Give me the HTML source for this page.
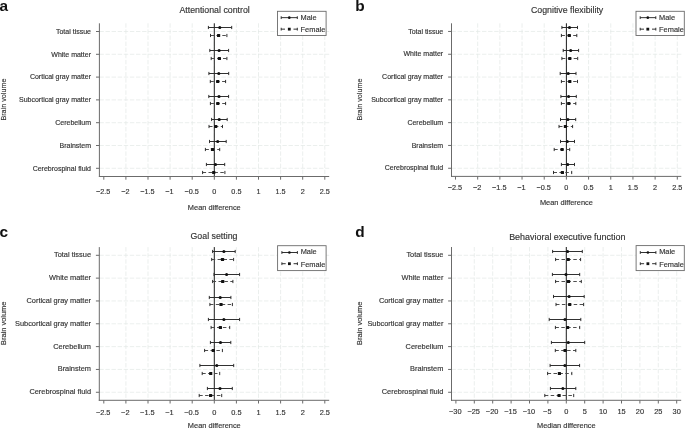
<!DOCTYPE html>
<html><head><meta charset="utf-8"><style>
html,body{margin:0;padding:0;background:#fff;width:685px;height:429px;overflow:hidden}
svg{display:block}
text{font-family:"Liberation Sans",sans-serif;fill:#333;stroke:#333;stroke-width:0.15px}
svg{will-change:transform}
.g{stroke:#e3e8e5;stroke-width:0.7;stroke-dasharray:4.4,1.7}
.z{stroke:#1e1e1e;stroke-width:1}
.ax{stroke:#6b6b6b;stroke-width:1}
.ci{stroke:#262626;stroke-width:0.95;fill:none}
.fd{stroke-dasharray:3.5,2.4;stroke:#444}
</style></head><body>
<svg width="685" height="429" viewBox="0 0 685 429">
<rect width="685" height="429" fill="#fff"/>
<line x1="125.90" y1="23.3" x2="125.90" y2="176.5" class="g"/>
<line x1="148.00" y1="23.3" x2="148.00" y2="176.5" class="g"/>
<line x1="170.10" y1="23.3" x2="170.10" y2="176.5" class="g"/>
<line x1="192.20" y1="23.3" x2="192.20" y2="176.5" class="g"/>
<line x1="214.30" y1="23.3" x2="214.30" y2="176.5" class="g"/>
<line x1="236.40" y1="23.3" x2="236.40" y2="176.5" class="g"/>
<line x1="258.50" y1="23.3" x2="258.50" y2="176.5" class="g"/>
<line x1="280.60" y1="23.3" x2="280.60" y2="176.5" class="g"/>
<line x1="302.70" y1="23.3" x2="302.70" y2="176.5" class="g"/>
<line x1="324.80" y1="23.3" x2="324.80" y2="176.5" class="g"/>
<line x1="99.4" y1="31.50" x2="329.2" y2="31.50" class="g"/>
<line x1="99.4" y1="54.30" x2="329.2" y2="54.30" class="g"/>
<line x1="99.4" y1="77.10" x2="329.2" y2="77.10" class="g"/>
<line x1="99.4" y1="99.90" x2="329.2" y2="99.90" class="g"/>
<line x1="99.4" y1="122.70" x2="329.2" y2="122.70" class="g"/>
<line x1="99.4" y1="145.50" x2="329.2" y2="145.50" class="g"/>
<line x1="99.4" y1="168.30" x2="329.2" y2="168.30" class="g"/>
<line x1="214.3" y1="23.3" x2="214.3" y2="176.5" class="z"/>
<line x1="99.4" y1="23.3" x2="99.4" y2="177.0" class="ax"/>
<line x1="98.9" y1="176.5" x2="329.2" y2="176.5" class="ax"/>
<line x1="103.80" y1="176.5" x2="103.80" y2="179.7" class="ax"/>
<text x="103.20" y="193.9" font-size="7.25" text-anchor="middle">−2.5</text>
<line x1="125.90" y1="176.5" x2="125.90" y2="179.7" class="ax"/>
<text x="125.30" y="193.9" font-size="7.25" text-anchor="middle">−2</text>
<line x1="148.00" y1="176.5" x2="148.00" y2="179.7" class="ax"/>
<text x="147.40" y="193.9" font-size="7.25" text-anchor="middle">−1.5</text>
<line x1="170.10" y1="176.5" x2="170.10" y2="179.7" class="ax"/>
<text x="169.50" y="193.9" font-size="7.25" text-anchor="middle">−1</text>
<line x1="192.20" y1="176.5" x2="192.20" y2="179.7" class="ax"/>
<text x="191.60" y="193.9" font-size="7.25" text-anchor="middle">−0.5</text>
<line x1="214.30" y1="176.5" x2="214.30" y2="179.7" class="ax"/>
<text x="214.30" y="193.9" font-size="7.25" text-anchor="middle">0</text>
<line x1="236.40" y1="176.5" x2="236.40" y2="179.7" class="ax"/>
<text x="236.40" y="193.9" font-size="7.25" text-anchor="middle">0.5</text>
<line x1="258.50" y1="176.5" x2="258.50" y2="179.7" class="ax"/>
<text x="258.50" y="193.9" font-size="7.25" text-anchor="middle">1</text>
<line x1="280.60" y1="176.5" x2="280.60" y2="179.7" class="ax"/>
<text x="280.60" y="193.9" font-size="7.25" text-anchor="middle">1.5</text>
<line x1="302.70" y1="176.5" x2="302.70" y2="179.7" class="ax"/>
<text x="302.70" y="193.9" font-size="7.25" text-anchor="middle">2</text>
<line x1="324.80" y1="176.5" x2="324.80" y2="179.7" class="ax"/>
<text x="324.80" y="193.9" font-size="7.25" text-anchor="middle">2.5</text>
<line x1="96.0" y1="31.50" x2="99.4" y2="31.50" class="ax"/>
<text x="91.0" y="33.70" font-size="7.0" text-anchor="end">Total tissue</text>
<line x1="96.0" y1="54.30" x2="99.4" y2="54.30" class="ax"/>
<text x="91.0" y="56.50" font-size="7.0" text-anchor="end">White matter</text>
<line x1="96.0" y1="77.10" x2="99.4" y2="77.10" class="ax"/>
<text x="91.0" y="79.30" font-size="7.0" text-anchor="end">Cortical gray matter</text>
<line x1="96.0" y1="99.90" x2="99.4" y2="99.90" class="ax"/>
<text x="91.0" y="102.10" font-size="7.0" text-anchor="end">Subcortical gray matter</text>
<line x1="96.0" y1="122.70" x2="99.4" y2="122.70" class="ax"/>
<text x="91.0" y="124.90" font-size="7.0" text-anchor="end">Cerebellum</text>
<line x1="96.0" y1="145.50" x2="99.4" y2="145.50" class="ax"/>
<text x="91.0" y="147.70" font-size="7.0" text-anchor="end">Brainstem</text>
<line x1="96.0" y1="168.30" x2="99.4" y2="168.30" class="ax"/>
<text x="91.0" y="170.50" font-size="7.0" text-anchor="end">Cerebrospinal fluid</text>
<path d="M208.4,27.50H231.7M208.4,25.90V29.10M231.7,25.90V29.10" class="ci"/>
<circle cx="219.8" cy="27.50" r="1.55" fill="#111"/>
<path d="M210.5,35.50H226.9" class="ci fd"/>
<path d="M210.5,33.90V37.10M226.9,33.90V37.10" class="ci"/>
<rect x="217.00" y="33.90" width="3.2" height="3.2" rx="0.5" fill="#111"/>
<path d="M209.8,50.50H228.6M209.8,48.90V52.10M228.6,48.90V52.10" class="ci"/>
<circle cx="219.1" cy="50.50" r="1.55" fill="#111"/>
<path d="M211.2,58.50H226.9" class="ci fd"/>
<path d="M211.2,56.90V60.10M226.9,56.90V60.10" class="ci"/>
<rect x="217.80" y="56.90" width="3.2" height="3.2" rx="0.5" fill="#111"/>
<path d="M208.9,73.50H228.7M208.9,71.90V75.10M228.7,71.90V75.10" class="ci"/>
<circle cx="218.8" cy="73.50" r="1.55" fill="#111"/>
<path d="M210.3,81.50H225.6" class="ci fd"/>
<path d="M210.3,79.90V83.10M225.6,79.90V83.10" class="ci"/>
<rect x="216.10" y="79.90" width="3.2" height="3.2" rx="0.5" fill="#111"/>
<path d="M208.8,96.50H228.6M208.8,94.90V98.10M228.6,94.90V98.10" class="ci"/>
<circle cx="219.0" cy="96.50" r="1.55" fill="#111"/>
<path d="M210.4,103.50H225.6" class="ci fd"/>
<path d="M210.4,101.90V105.10M225.6,101.90V105.10" class="ci"/>
<rect x="216.20" y="101.90" width="3.2" height="3.2" rx="0.5" fill="#111"/>
<path d="M211.6,119.50H227.2M211.6,117.90V121.10M227.2,117.90V121.10" class="ci"/>
<circle cx="219.2" cy="119.50" r="1.55" fill="#111"/>
<path d="M209.0,126.50H222.5" class="ci fd"/>
<path d="M209.0,124.90V128.10M222.5,124.90V128.10" class="ci"/>
<rect x="214.10" y="124.90" width="3.2" height="3.2" rx="0.5" fill="#111"/>
<path d="M209.5,141.50H226.2M209.5,139.90V143.10M226.2,139.90V143.10" class="ci"/>
<circle cx="217.7" cy="141.50" r="1.55" fill="#111"/>
<path d="M205.4,149.50H219.7" class="ci fd"/>
<path d="M205.4,147.90V151.10M219.7,147.90V151.10" class="ci"/>
<rect x="210.90" y="147.90" width="3.2" height="3.2" rx="0.5" fill="#111"/>
<path d="M206.4,164.50H224.7M206.4,162.90V166.10M224.7,162.90V166.10" class="ci"/>
<circle cx="215.5" cy="164.50" r="1.55" fill="#111"/>
<path d="M202.6,172.50H224.9" class="ci fd"/>
<path d="M202.6,170.90V174.10M224.9,170.90V174.10" class="ci"/>
<rect x="212.10" y="170.90" width="3.2" height="3.2" rx="0.5" fill="#111"/>
<rect x="277.5" y="11.3" width="48.6" height="24.2" fill="#fff" stroke="#6b6b6b" stroke-width="0.9"/>
<path d="M281.20,17.65H297.30M281.20,16.25V19.05M297.30,16.25V19.05" class="ci"/>
<circle cx="289.30" cy="17.65" r="1.3" fill="#111"/>
<path d="M281.20,29.15H285.00M293.50,29.15H297.30M281.20,27.75V30.55M297.30,27.75V30.55" class="ci"/>
<rect x="287.90" y="27.75" width="2.8" height="2.8" fill="#111"/>
<text x="300.60" y="19.90" font-size="7.4">Male</text>
<text x="300.60" y="31.75" font-size="7.4">Female</text>
<text x="214.6" y="12.8" font-size="8.8" text-anchor="middle">Attentional control</text>
<text x="214.3" y="210.1" font-size="7.4" text-anchor="middle">Mean difference</text>
<text transform="translate(6.3,99.6) rotate(-90)" font-size="7.2" text-anchor="middle">Brain volume</text>
<text x="-0.6" y="10.8" font-size="15.4" font-weight="bold" style="fill:#111;stroke:none">a</text>
<line x1="477.68" y1="23.3" x2="477.68" y2="176.4" class="g"/>
<line x1="499.86" y1="23.3" x2="499.86" y2="176.4" class="g"/>
<line x1="522.04" y1="23.3" x2="522.04" y2="176.4" class="g"/>
<line x1="544.22" y1="23.3" x2="544.22" y2="176.4" class="g"/>
<line x1="566.40" y1="23.3" x2="566.40" y2="176.4" class="g"/>
<line x1="588.58" y1="23.3" x2="588.58" y2="176.4" class="g"/>
<line x1="610.76" y1="23.3" x2="610.76" y2="176.4" class="g"/>
<line x1="632.94" y1="23.3" x2="632.94" y2="176.4" class="g"/>
<line x1="655.12" y1="23.3" x2="655.12" y2="176.4" class="g"/>
<line x1="677.30" y1="23.3" x2="677.30" y2="176.4" class="g"/>
<line x1="451.5" y1="31.45" x2="681.3" y2="31.45" class="g"/>
<line x1="451.5" y1="54.25" x2="681.3" y2="54.25" class="g"/>
<line x1="451.5" y1="77.05" x2="681.3" y2="77.05" class="g"/>
<line x1="451.5" y1="99.85" x2="681.3" y2="99.85" class="g"/>
<line x1="451.5" y1="122.65" x2="681.3" y2="122.65" class="g"/>
<line x1="451.5" y1="145.45" x2="681.3" y2="145.45" class="g"/>
<line x1="451.5" y1="168.25" x2="681.3" y2="168.25" class="g"/>
<line x1="566.4" y1="23.3" x2="566.4" y2="176.4" class="z"/>
<line x1="451.5" y1="23.3" x2="451.5" y2="176.9" class="ax"/>
<line x1="451.0" y1="176.4" x2="681.3" y2="176.4" class="ax"/>
<line x1="455.50" y1="176.4" x2="455.50" y2="179.6" class="ax"/>
<text x="454.90" y="189.9" font-size="7.3" text-anchor="middle">−2.5</text>
<line x1="477.68" y1="176.4" x2="477.68" y2="179.6" class="ax"/>
<text x="477.08" y="189.9" font-size="7.3" text-anchor="middle">−2</text>
<line x1="499.86" y1="176.4" x2="499.86" y2="179.6" class="ax"/>
<text x="499.26" y="189.9" font-size="7.3" text-anchor="middle">−1.5</text>
<line x1="522.04" y1="176.4" x2="522.04" y2="179.6" class="ax"/>
<text x="521.44" y="189.9" font-size="7.3" text-anchor="middle">−1</text>
<line x1="544.22" y1="176.4" x2="544.22" y2="179.6" class="ax"/>
<text x="543.62" y="189.9" font-size="7.3" text-anchor="middle">−0.5</text>
<line x1="566.40" y1="176.4" x2="566.40" y2="179.6" class="ax"/>
<text x="566.40" y="189.9" font-size="7.3" text-anchor="middle">0</text>
<line x1="588.58" y1="176.4" x2="588.58" y2="179.6" class="ax"/>
<text x="588.58" y="189.9" font-size="7.3" text-anchor="middle">0.5</text>
<line x1="610.76" y1="176.4" x2="610.76" y2="179.6" class="ax"/>
<text x="610.76" y="189.9" font-size="7.3" text-anchor="middle">1</text>
<line x1="632.94" y1="176.4" x2="632.94" y2="179.6" class="ax"/>
<text x="632.94" y="189.9" font-size="7.3" text-anchor="middle">1.5</text>
<line x1="655.12" y1="176.4" x2="655.12" y2="179.6" class="ax"/>
<text x="655.12" y="189.9" font-size="7.3" text-anchor="middle">2</text>
<line x1="677.30" y1="176.4" x2="677.30" y2="179.6" class="ax"/>
<text x="677.30" y="189.9" font-size="7.3" text-anchor="middle">2.5</text>
<line x1="448.1" y1="31.45" x2="451.5" y2="31.45" class="ax"/>
<text x="443.2" y="33.65" font-size="7.0" text-anchor="end">Total tissue</text>
<line x1="448.1" y1="54.25" x2="451.5" y2="54.25" class="ax"/>
<text x="443.2" y="56.45" font-size="7.0" text-anchor="end">White matter</text>
<line x1="448.1" y1="77.05" x2="451.5" y2="77.05" class="ax"/>
<text x="443.2" y="79.25" font-size="7.0" text-anchor="end">Cortical gray matter</text>
<line x1="448.1" y1="99.85" x2="451.5" y2="99.85" class="ax"/>
<text x="443.2" y="102.05" font-size="7.0" text-anchor="end">Subcortical gray matter</text>
<line x1="448.1" y1="122.65" x2="451.5" y2="122.65" class="ax"/>
<text x="443.2" y="124.85" font-size="7.0" text-anchor="end">Cerebellum</text>
<line x1="448.1" y1="145.45" x2="451.5" y2="145.45" class="ax"/>
<text x="443.2" y="147.65" font-size="7.0" text-anchor="end">Brainstem</text>
<line x1="448.1" y1="168.25" x2="451.5" y2="168.25" class="ax"/>
<text x="443.2" y="170.45" font-size="7.0" text-anchor="end">Cerebrospinal fluid</text>
<path d="M561.9,27.50H577.5M561.9,25.90V29.10M577.5,25.90V29.10" class="ci"/>
<circle cx="569.5" cy="27.50" r="1.55" fill="#111"/>
<path d="M561.4,35.50H576.8" class="ci fd"/>
<path d="M561.4,33.90V37.10M576.8,33.90V37.10" class="ci"/>
<rect x="567.70" y="33.90" width="3.2" height="3.2" rx="0.5" fill="#111"/>
<path d="M563.2,50.50H578.6M563.2,48.90V52.10M578.6,48.90V52.10" class="ci"/>
<circle cx="570.7" cy="50.50" r="1.55" fill="#111"/>
<path d="M561.9,58.50H577.7" class="ci fd"/>
<path d="M561.9,56.90V60.10M577.7,56.90V60.10" class="ci"/>
<rect x="568.20" y="56.90" width="3.2" height="3.2" rx="0.5" fill="#111"/>
<path d="M560.2,73.50H576.0M560.2,71.90V75.10M576.0,71.90V75.10" class="ci"/>
<circle cx="568.2" cy="73.50" r="1.55" fill="#111"/>
<path d="M561.4,81.50H577.5" class="ci fd"/>
<path d="M561.4,79.90V83.10M577.5,79.90V83.10" class="ci"/>
<rect x="568.20" y="79.90" width="3.2" height="3.2" rx="0.5" fill="#111"/>
<path d="M560.9,96.50H576.3M560.9,94.90V98.10M576.3,94.90V98.10" class="ci"/>
<circle cx="568.6" cy="96.50" r="1.55" fill="#111"/>
<path d="M561.4,103.50H575.8" class="ci fd"/>
<path d="M561.4,101.90V105.10M575.8,101.90V105.10" class="ci"/>
<rect x="567.20" y="101.90" width="3.2" height="3.2" rx="0.5" fill="#111"/>
<path d="M560.5,119.50H575.7M560.5,117.90V121.10M575.7,117.90V121.10" class="ci"/>
<circle cx="567.9" cy="119.50" r="1.55" fill="#111"/>
<path d="M559.0,126.50H572.6" class="ci fd"/>
<path d="M559.0,124.90V128.10M572.6,124.90V128.10" class="ci"/>
<rect x="563.80" y="124.90" width="3.2" height="3.2" rx="0.5" fill="#111"/>
<path d="M560.5,141.50H574.5M560.5,139.90V143.10M574.5,139.90V143.10" class="ci"/>
<circle cx="567.3" cy="141.50" r="1.55" fill="#111"/>
<path d="M554.2,149.50H569.7" class="ci fd"/>
<path d="M554.2,147.90V151.10M569.7,147.90V151.10" class="ci"/>
<rect x="560.50" y="147.90" width="3.2" height="3.2" rx="0.5" fill="#111"/>
<path d="M561.4,164.50H574.5M561.4,162.90V166.10M574.5,162.90V166.10" class="ci"/>
<circle cx="567.7" cy="164.50" r="1.55" fill="#111"/>
<path d="M553.5,172.50H571.7" class="ci fd"/>
<path d="M553.5,170.90V174.10M571.7,170.90V174.10" class="ci"/>
<rect x="560.80" y="170.90" width="3.2" height="3.2" rx="0.5" fill="#111"/>
<rect x="636.0" y="11.3" width="48.3" height="24.2" fill="#fff" stroke="#6b6b6b" stroke-width="0.9"/>
<path d="M640.20,17.65H655.80M640.20,16.25V19.05M655.80,16.25V19.05" class="ci"/>
<circle cx="647.80" cy="17.65" r="1.3" fill="#111"/>
<path d="M640.20,29.15H644.00M652.00,29.15H655.80M640.20,27.75V30.55M655.80,27.75V30.55" class="ci"/>
<rect x="646.40" y="27.75" width="2.8" height="2.8" fill="#111"/>
<text x="659.10" y="19.90" font-size="7.4">Male</text>
<text x="659.10" y="31.75" font-size="7.4">Female</text>
<text x="567.1" y="12.9" font-size="8.8" text-anchor="middle">Cognitive flexibility</text>
<text x="566.4" y="204.8" font-size="7.4" text-anchor="middle">Mean difference</text>
<text transform="translate(362.4,99.6) rotate(-90)" font-size="7.2" text-anchor="middle">Brain volume</text>
<text x="355.2" y="10.6" font-size="15.4" font-weight="bold" style="fill:#111;stroke:none">b</text>
<line x1="125.90" y1="247.1" x2="125.90" y2="400.3" class="g"/>
<line x1="148.00" y1="247.1" x2="148.00" y2="400.3" class="g"/>
<line x1="170.10" y1="247.1" x2="170.10" y2="400.3" class="g"/>
<line x1="192.20" y1="247.1" x2="192.20" y2="400.3" class="g"/>
<line x1="214.30" y1="247.1" x2="214.30" y2="400.3" class="g"/>
<line x1="236.40" y1="247.1" x2="236.40" y2="400.3" class="g"/>
<line x1="258.50" y1="247.1" x2="258.50" y2="400.3" class="g"/>
<line x1="280.60" y1="247.1" x2="280.60" y2="400.3" class="g"/>
<line x1="302.70" y1="247.1" x2="302.70" y2="400.3" class="g"/>
<line x1="324.80" y1="247.1" x2="324.80" y2="400.3" class="g"/>
<line x1="99.3" y1="255.30" x2="329.2" y2="255.30" class="g"/>
<line x1="99.3" y1="278.13" x2="329.2" y2="278.13" class="g"/>
<line x1="99.3" y1="300.96" x2="329.2" y2="300.96" class="g"/>
<line x1="99.3" y1="323.79" x2="329.2" y2="323.79" class="g"/>
<line x1="99.3" y1="346.62" x2="329.2" y2="346.62" class="g"/>
<line x1="99.3" y1="369.45" x2="329.2" y2="369.45" class="g"/>
<line x1="99.3" y1="392.28" x2="329.2" y2="392.28" class="g"/>
<line x1="214.3" y1="247.1" x2="214.3" y2="400.3" class="z"/>
<line x1="99.3" y1="247.1" x2="99.3" y2="400.8" class="ax"/>
<line x1="98.8" y1="400.3" x2="329.2" y2="400.3" class="ax"/>
<line x1="103.80" y1="400.3" x2="103.80" y2="403.5" class="ax"/>
<text x="103.20" y="414.6" font-size="7.4" text-anchor="middle">−2.5</text>
<line x1="125.90" y1="400.3" x2="125.90" y2="403.5" class="ax"/>
<text x="125.30" y="414.6" font-size="7.4" text-anchor="middle">−2</text>
<line x1="148.00" y1="400.3" x2="148.00" y2="403.5" class="ax"/>
<text x="147.40" y="414.6" font-size="7.4" text-anchor="middle">−1.5</text>
<line x1="170.10" y1="400.3" x2="170.10" y2="403.5" class="ax"/>
<text x="169.50" y="414.6" font-size="7.4" text-anchor="middle">−1</text>
<line x1="192.20" y1="400.3" x2="192.20" y2="403.5" class="ax"/>
<text x="191.60" y="414.6" font-size="7.4" text-anchor="middle">−0.5</text>
<line x1="214.30" y1="400.3" x2="214.30" y2="403.5" class="ax"/>
<text x="214.30" y="414.6" font-size="7.4" text-anchor="middle">0</text>
<line x1="236.40" y1="400.3" x2="236.40" y2="403.5" class="ax"/>
<text x="236.40" y="414.6" font-size="7.4" text-anchor="middle">0.5</text>
<line x1="258.50" y1="400.3" x2="258.50" y2="403.5" class="ax"/>
<text x="258.50" y="414.6" font-size="7.4" text-anchor="middle">1</text>
<line x1="280.60" y1="400.3" x2="280.60" y2="403.5" class="ax"/>
<text x="280.60" y="414.6" font-size="7.4" text-anchor="middle">1.5</text>
<line x1="302.70" y1="400.3" x2="302.70" y2="403.5" class="ax"/>
<text x="302.70" y="414.6" font-size="7.4" text-anchor="middle">2</text>
<line x1="324.80" y1="400.3" x2="324.80" y2="403.5" class="ax"/>
<text x="324.80" y="414.6" font-size="7.4" text-anchor="middle">2.5</text>
<line x1="95.89999999999999" y1="255.30" x2="99.3" y2="255.30" class="ax"/>
<text x="91.0" y="257.30" font-size="7.4" text-anchor="end">Total tissue</text>
<line x1="95.89999999999999" y1="278.13" x2="99.3" y2="278.13" class="ax"/>
<text x="91.0" y="280.13" font-size="7.4" text-anchor="end">White matter</text>
<line x1="95.89999999999999" y1="300.96" x2="99.3" y2="300.96" class="ax"/>
<text x="91.0" y="302.96" font-size="7.4" text-anchor="end">Cortical gray matter</text>
<line x1="95.89999999999999" y1="323.79" x2="99.3" y2="323.79" class="ax"/>
<text x="91.0" y="325.79" font-size="7.4" text-anchor="end">Subcortical gray matter</text>
<line x1="95.89999999999999" y1="346.62" x2="99.3" y2="346.62" class="ax"/>
<text x="91.0" y="348.62" font-size="7.4" text-anchor="end">Cerebellum</text>
<line x1="95.89999999999999" y1="369.45" x2="99.3" y2="369.45" class="ax"/>
<text x="91.0" y="371.45" font-size="7.4" text-anchor="end">Brainstem</text>
<line x1="95.89999999999999" y1="392.28" x2="99.3" y2="392.28" class="ax"/>
<text x="91.0" y="394.28" font-size="7.4" text-anchor="end">Cerebrospinal fluid</text>
<path d="M212.6,251.50H235.2M212.6,249.90V253.10M235.2,249.90V253.10" class="ci"/>
<circle cx="223.9" cy="251.50" r="1.55" fill="#111"/>
<path d="M211.7,259.50H233.6" class="ci fd"/>
<path d="M211.7,257.90V261.10M233.6,257.90V261.10" class="ci"/>
<rect x="220.90" y="257.90" width="3.2" height="3.2" rx="0.5" fill="#111"/>
<path d="M214.0,274.50H239.6M214.0,272.90V276.10M239.6,272.90V276.10" class="ci"/>
<circle cx="226.6" cy="274.50" r="1.55" fill="#111"/>
<path d="M212.6,281.50H232.9" class="ci fd"/>
<path d="M212.6,279.90V283.10M232.9,279.90V283.10" class="ci"/>
<rect x="221.10" y="279.90" width="3.2" height="3.2" rx="0.5" fill="#111"/>
<path d="M209.3,297.50H230.9M209.3,295.90V299.10M230.9,295.90V299.10" class="ci"/>
<circle cx="220.2" cy="297.50" r="1.55" fill="#111"/>
<path d="M209.9,304.50H232.4" class="ci fd"/>
<path d="M209.9,302.90V306.10M232.4,302.90V306.10" class="ci"/>
<rect x="219.40" y="302.90" width="3.2" height="3.2" rx="0.5" fill="#111"/>
<path d="M208.4,319.50H239.6M208.4,317.90V321.10M239.6,317.90V321.10" class="ci"/>
<circle cx="223.9" cy="319.50" r="1.55" fill="#111"/>
<path d="M211.1,327.50H229.7" class="ci fd"/>
<path d="M211.1,325.90V329.10M229.7,325.90V329.10" class="ci"/>
<rect x="218.80" y="325.90" width="3.2" height="3.2" rx="0.5" fill="#111"/>
<path d="M210.4,342.50H230.8M210.4,340.90V344.10M230.8,340.90V344.10" class="ci"/>
<circle cx="220.5" cy="342.50" r="1.55" fill="#111"/>
<path d="M204.6,350.50H222.4" class="ci fd"/>
<path d="M204.6,348.90V352.10M222.4,348.90V352.10" class="ci"/>
<rect x="211.70" y="348.90" width="3.2" height="3.2" rx="0.5" fill="#111"/>
<path d="M199.9,365.50H233.7M199.9,363.90V367.10M233.7,363.90V367.10" class="ci"/>
<circle cx="216.8" cy="365.50" r="1.55" fill="#111"/>
<path d="M202.2,373.50H219.7" class="ci fd"/>
<path d="M202.2,371.90V375.10M219.7,371.90V375.10" class="ci"/>
<rect x="209.10" y="371.90" width="3.2" height="3.2" rx="0.5" fill="#111"/>
<path d="M207.4,388.50H232.3M207.4,386.90V390.10M232.3,386.90V390.10" class="ci"/>
<circle cx="220.0" cy="388.50" r="1.55" fill="#111"/>
<path d="M199.2,395.50H221.7" class="ci fd"/>
<path d="M199.2,393.90V397.10M221.7,393.90V397.10" class="ci"/>
<rect x="209.00" y="393.90" width="3.2" height="3.2" rx="0.5" fill="#111"/>
<rect x="277.6" y="245.7" width="48.5" height="24.9" fill="#fff" stroke="#6b6b6b" stroke-width="0.9"/>
<path d="M281.90,252.50H297.40M281.90,251.10V253.90M297.40,251.10V253.90" class="ci"/>
<circle cx="289.40" cy="252.50" r="1.3" fill="#111"/>
<path d="M281.90,263.70H285.70M293.60,263.70H297.40M281.90,262.30V265.10M297.40,262.30V265.10" class="ci"/>
<rect x="288.00" y="262.30" width="2.8" height="2.8" fill="#111"/>
<text x="300.70" y="254.30" font-size="7.4">Male</text>
<text x="300.70" y="266.60" font-size="7.4">Female</text>
<text x="214.0" y="239.4" font-size="8.8" text-anchor="middle">Goal setting</text>
<text x="214.3" y="428.4" font-size="7.4" text-anchor="middle">Mean difference</text>
<text transform="translate(6.3,323.3) rotate(-90)" font-size="7.45" text-anchor="middle">Brain volume</text>
<text x="-0.6" y="236.6" font-size="15.4" font-weight="bold" style="fill:#111;stroke:none">c</text>
<line x1="474.30" y1="247.0" x2="474.30" y2="400.3" class="g"/>
<line x1="492.70" y1="247.0" x2="492.70" y2="400.3" class="g"/>
<line x1="511.10" y1="247.0" x2="511.10" y2="400.3" class="g"/>
<line x1="529.50" y1="247.0" x2="529.50" y2="400.3" class="g"/>
<line x1="547.90" y1="247.0" x2="547.90" y2="400.3" class="g"/>
<line x1="566.30" y1="247.0" x2="566.30" y2="400.3" class="g"/>
<line x1="584.70" y1="247.0" x2="584.70" y2="400.3" class="g"/>
<line x1="603.10" y1="247.0" x2="603.10" y2="400.3" class="g"/>
<line x1="621.50" y1="247.0" x2="621.50" y2="400.3" class="g"/>
<line x1="639.90" y1="247.0" x2="639.90" y2="400.3" class="g"/>
<line x1="658.30" y1="247.0" x2="658.30" y2="400.3" class="g"/>
<line x1="676.70" y1="247.0" x2="676.70" y2="400.3" class="g"/>
<line x1="451.5" y1="255.30" x2="681.2" y2="255.30" class="g"/>
<line x1="451.5" y1="278.13" x2="681.2" y2="278.13" class="g"/>
<line x1="451.5" y1="300.96" x2="681.2" y2="300.96" class="g"/>
<line x1="451.5" y1="323.79" x2="681.2" y2="323.79" class="g"/>
<line x1="451.5" y1="346.62" x2="681.2" y2="346.62" class="g"/>
<line x1="451.5" y1="369.45" x2="681.2" y2="369.45" class="g"/>
<line x1="451.5" y1="392.28" x2="681.2" y2="392.28" class="g"/>
<line x1="566.3" y1="247.0" x2="566.3" y2="400.3" class="z"/>
<line x1="451.5" y1="247.0" x2="451.5" y2="400.8" class="ax"/>
<line x1="451.0" y1="400.3" x2="681.2" y2="400.3" class="ax"/>
<line x1="455.90" y1="400.3" x2="455.90" y2="403.5" class="ax"/>
<text x="455.30" y="414.4" font-size="7.4" text-anchor="middle">−30</text>
<line x1="474.30" y1="400.3" x2="474.30" y2="403.5" class="ax"/>
<text x="473.70" y="414.4" font-size="7.4" text-anchor="middle">−25</text>
<line x1="492.70" y1="400.3" x2="492.70" y2="403.5" class="ax"/>
<text x="492.10" y="414.4" font-size="7.4" text-anchor="middle">−20</text>
<line x1="511.10" y1="400.3" x2="511.10" y2="403.5" class="ax"/>
<text x="510.50" y="414.4" font-size="7.4" text-anchor="middle">−15</text>
<line x1="529.50" y1="400.3" x2="529.50" y2="403.5" class="ax"/>
<text x="528.90" y="414.4" font-size="7.4" text-anchor="middle">−10</text>
<line x1="547.90" y1="400.3" x2="547.90" y2="403.5" class="ax"/>
<text x="547.30" y="414.4" font-size="7.4" text-anchor="middle">−5</text>
<line x1="566.30" y1="400.3" x2="566.30" y2="403.5" class="ax"/>
<text x="566.30" y="414.4" font-size="7.4" text-anchor="middle">0</text>
<line x1="584.70" y1="400.3" x2="584.70" y2="403.5" class="ax"/>
<text x="584.70" y="414.4" font-size="7.4" text-anchor="middle">5</text>
<line x1="603.10" y1="400.3" x2="603.10" y2="403.5" class="ax"/>
<text x="603.10" y="414.4" font-size="7.4" text-anchor="middle">10</text>
<line x1="621.50" y1="400.3" x2="621.50" y2="403.5" class="ax"/>
<text x="621.50" y="414.4" font-size="7.4" text-anchor="middle">15</text>
<line x1="639.90" y1="400.3" x2="639.90" y2="403.5" class="ax"/>
<text x="639.90" y="414.4" font-size="7.4" text-anchor="middle">20</text>
<line x1="658.30" y1="400.3" x2="658.30" y2="403.5" class="ax"/>
<text x="658.30" y="414.4" font-size="7.4" text-anchor="middle">25</text>
<line x1="676.70" y1="400.3" x2="676.70" y2="403.5" class="ax"/>
<text x="676.70" y="414.4" font-size="7.4" text-anchor="middle">30</text>
<line x1="448.1" y1="255.30" x2="451.5" y2="255.30" class="ax"/>
<text x="443.4" y="257.30" font-size="7.4" text-anchor="end">Total tissue</text>
<line x1="448.1" y1="278.13" x2="451.5" y2="278.13" class="ax"/>
<text x="443.4" y="280.13" font-size="7.4" text-anchor="end">White matter</text>
<line x1="448.1" y1="300.96" x2="451.5" y2="300.96" class="ax"/>
<text x="443.4" y="302.96" font-size="7.4" text-anchor="end">Cortical gray matter</text>
<line x1="448.1" y1="323.79" x2="451.5" y2="323.79" class="ax"/>
<text x="443.4" y="325.79" font-size="7.4" text-anchor="end">Subcortical gray matter</text>
<line x1="448.1" y1="346.62" x2="451.5" y2="346.62" class="ax"/>
<text x="443.4" y="348.62" font-size="7.4" text-anchor="end">Cerebellum</text>
<line x1="448.1" y1="369.45" x2="451.5" y2="369.45" class="ax"/>
<text x="443.4" y="371.45" font-size="7.4" text-anchor="end">Brainstem</text>
<line x1="448.1" y1="392.28" x2="451.5" y2="392.28" class="ax"/>
<text x="443.4" y="394.28" font-size="7.4" text-anchor="end">Cerebrospinal fluid</text>
<path d="M552.6,251.50H582.3M552.6,249.90V253.10M582.3,249.90V253.10" class="ci"/>
<circle cx="567.6" cy="251.50" r="1.55" fill="#111"/>
<path d="M555.6,259.50H580.6" class="ci fd"/>
<path d="M555.6,257.90V261.10M580.6,257.90V261.10" class="ci"/>
<rect x="566.60" y="257.90" width="3.2" height="3.2" rx="0.5" fill="#111"/>
<path d="M552.4,274.50H579.7M552.4,272.90V276.10M579.7,272.90V276.10" class="ci"/>
<circle cx="566.0" cy="274.50" r="1.55" fill="#111"/>
<path d="M555.6,281.50H581.3" class="ci fd"/>
<path d="M555.6,279.90V283.10M581.3,279.90V283.10" class="ci"/>
<rect x="566.90" y="279.90" width="3.2" height="3.2" rx="0.5" fill="#111"/>
<path d="M553.5,296.50H584.2M553.5,294.90V298.10M584.2,294.90V298.10" class="ci"/>
<circle cx="569.1" cy="296.50" r="1.55" fill="#111"/>
<path d="M556.0,304.50H583.6" class="ci fd"/>
<path d="M556.0,302.90V306.10M583.6,302.90V306.10" class="ci"/>
<rect x="568.10" y="302.90" width="3.2" height="3.2" rx="0.5" fill="#111"/>
<path d="M549.2,319.50H580.8M549.2,317.90V321.10M580.8,317.90V321.10" class="ci"/>
<circle cx="565.0" cy="319.50" r="1.55" fill="#111"/>
<path d="M555.4,327.50H579.7" class="ci fd"/>
<path d="M555.4,325.90V329.10M579.7,325.90V329.10" class="ci"/>
<rect x="566.00" y="325.90" width="3.2" height="3.2" rx="0.5" fill="#111"/>
<path d="M551.4,342.50H584.7M551.4,340.90V344.10M584.7,340.90V344.10" class="ci"/>
<circle cx="568.3" cy="342.50" r="1.55" fill="#111"/>
<path d="M555.3,350.50H575.8" class="ci fd"/>
<path d="M555.3,348.90V352.10M575.8,348.90V352.10" class="ci"/>
<rect x="563.50" y="348.90" width="3.2" height="3.2" rx="0.5" fill="#111"/>
<path d="M550.1,365.50H579.6M550.1,363.90V367.10M579.6,363.90V367.10" class="ci"/>
<circle cx="564.9" cy="365.50" r="1.55" fill="#111"/>
<path d="M547.6,373.50H571.8" class="ci fd"/>
<path d="M547.6,371.90V375.10M571.8,371.90V375.10" class="ci"/>
<rect x="557.80" y="371.90" width="3.2" height="3.2" rx="0.5" fill="#111"/>
<path d="M550.4,388.50H575.8M550.4,386.90V390.10M575.8,386.90V390.10" class="ci"/>
<circle cx="562.9" cy="388.50" r="1.55" fill="#111"/>
<path d="M544.8,395.50H573.7" class="ci fd"/>
<path d="M544.8,393.90V397.10M573.7,393.90V397.10" class="ci"/>
<rect x="557.50" y="393.90" width="3.2" height="3.2" rx="0.5" fill="#111"/>
<rect x="636.1" y="245.6" width="48.2" height="25.0" fill="#fff" stroke="#6b6b6b" stroke-width="0.9"/>
<path d="M640.30,252.50H655.90M640.30,251.10V253.90M655.90,251.10V253.90" class="ci"/>
<circle cx="647.90" cy="252.50" r="1.3" fill="#111"/>
<path d="M640.30,263.70H644.10M652.10,263.70H655.90M640.30,262.30V265.10M655.90,262.30V265.10" class="ci"/>
<rect x="646.50" y="262.30" width="2.8" height="2.8" fill="#111"/>
<text x="659.20" y="254.20" font-size="7.4">Male</text>
<text x="659.20" y="266.60" font-size="7.4">Female</text>
<text x="567.3" y="239.5" font-size="8.95" text-anchor="middle">Behavioral executive function</text>
<text x="566.3" y="428.2" font-size="7.4" text-anchor="middle">Median difference</text>
<text transform="translate(362.4,323.3) rotate(-90)" font-size="7.45" text-anchor="middle">Brain volume</text>
<text x="355.2" y="236.6" font-size="15.4" font-weight="bold" style="fill:#111;stroke:none">d</text>
</svg>
</body></html>
